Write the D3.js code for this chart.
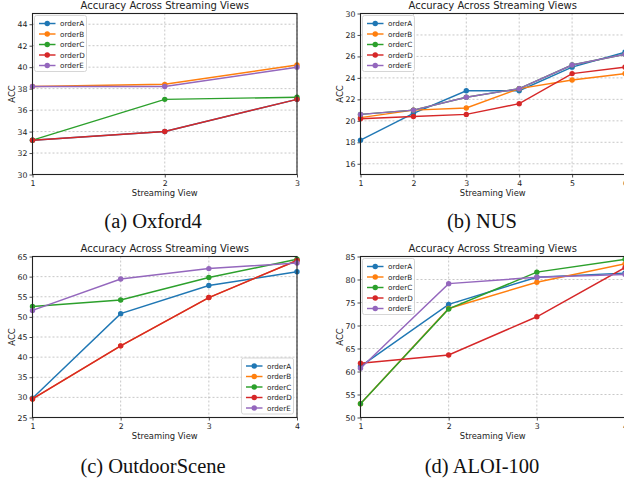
<!DOCTYPE html>
<html><head><meta charset="utf-8">
<script src="https://cdn.jsdelivr.net/npm/d3@7"></script>
<style>
html,body{margin:0;padding:0;background:#fff;}
svg{display:block;}
</style></head>
<body>
<svg id="chart" width="624" height="482"></svg>
<script>
// ---- data ----
const seriesNames = ["orderA","orderB","orderC","orderD","orderE"];
const seriesColors = ["#1f77b4","#ff7f0e","#2ca02c","#d62728","#9467bd"];

// (a) Oxford4
const oxfordViews = [1,2,3];
const oxfordA = [33.2,34.0,37.0];
const oxfordB = [38.2,38.4,40.2];
const oxfordC = [33.2,37.0,37.2];
const oxfordD = [33.2,34.0,37.0];
const oxfordE = [38.2,38.2,40.0];
const oxfordYTicks = [30,32,34,36,38,40,42,44];

// (b) NUS
const nusViews = [1,2,3,4,5,6];
const nusA = [18.2,20.7,22.8,22.8,25.0,26.4];
const nusB = [20.3,21.0,21.2,23.0,23.8,24.4];
const nusC = [20.6,21.0,22.2,23.0,25.2,26.2];
const nusD = [20.2,20.4,20.6,21.6,24.4,25.0];
const nusE = [20.6,21.0,22.2,23.0,25.2,26.2];
const nusYTicks = [16,18,20,22,24,26,28,30];

// (c) OutdoorScene
const outdoorViews = [1,2,3,4];
const outdoorA = [29.8,50.8,57.8,61.2];
const outdoorB = [29.6,42.8,54.8,64.0];
const outdoorC = [52.6,54.2,59.8,64.3];
const outdoorD = [29.6,42.8,54.8,64.0];
const outdoorE = [51.6,59.4,62.0,63.4];
const outdoorYTicks = [25,30,35,40,45,50,55,60,65];

// (d) ALOI-100
const aloiViews = [1,2,3,4];
const aloiA = [61.1,74.6,80.5,81.4];
const aloiB = [53.0,73.7,79.4,83.4];
const aloiC = [53.0,73.6,81.6,84.4];
const aloiD = [61.8,63.6,71.9,82.6];
const aloiE = [60.7,79.1,80.5,81.1];
const aloiYTicks = [50,55,60,65,70,75,80,85];

const titleText = "Accuracy Across Streaming Views";
const xLabelText = "Streaming View";
const yLabelText = "ACC";

// ---- layout ----
const svg = d3.select("#chart");
const W = 264.5;

const panels = [
  {left:32.5, top:13.5, bottom:174.5, views:oxfordViews, yDomain:[30,45], yTicks:oxfordYTicks,
   series:[oxfordA,oxfordB,oxfordC,oxfordD,oxfordE], legend:"ul", caption:"(a) Oxford4", capX:153, capY:228},
  {left:360.5, top:13.5, bottom:174.5, views:nusViews, yDomain:[15,30], yTicks:nusYTicks,
   series:[nusA,nusB,nusC,nusD,nusE], legend:"ul", caption:"(b) NUS", capX:482, capY:228},
  {left:32.5, top:256.5, bottom:417.5, views:outdoorViews, yDomain:[25,65], yTicks:outdoorYTicks,
   series:[outdoorA,outdoorB,outdoorC,outdoorD,outdoorE], legend:"lr", caption:"(c) OutdoorScene", capX:153, capY:473},
  {left:360.5, top:256.5, bottom:417.5, views:aloiViews, yDomain:[50,85], yTicks:aloiYTicks,
   series:[aloiA,aloiB,aloiC,aloiD,aloiE], legend:"ul", caption:"(d) ALOI-100", capX:482, capY:473}
];

const FONT = "DejaVu Sans, sans-serif";

panels.forEach(p => {
  const x = d3.scaleLinear().domain([p.views[0], p.views[p.views.length-1]]).range([p.left, p.left+W]);
  const y = d3.scaleLinear().domain(p.yDomain).range([p.bottom, p.top]);
  const g = svg.append("g");

  // grid
  g.append("g").selectAll("line").data(p.views).join("line")
    .attr("x1", d=>x(d)).attr("x2", d=>x(d)).attr("y1", p.top).attr("y2", p.bottom)
    .attr("stroke","#b0b0b0").attr("stroke-width",0.7).attr("stroke-dasharray","2,2");
  g.append("g").selectAll("line").data(p.yTicks).join("line")
    .attr("x1", p.left).attr("x2", p.left+W).attr("y1", d=>y(d)).attr("y2", d=>y(d))
    .attr("stroke","#b0b0b0").attr("stroke-width",0.7).attr("stroke-dasharray","2,2");

  // axes
  const xAxis = d3.axisBottom(x).tickValues(p.views).tickFormat(d3.format("d")).tickSize(3).tickPadding(2.5);
  const yAxis = d3.axisLeft(y).tickValues(p.yTicks).tickFormat(d3.format("d")).tickSize(3).tickPadding(2);
  const gx = g.append("g").attr("transform",`translate(0,${p.bottom})`).call(xAxis);
  const gy = g.append("g").attr("transform",`translate(${p.left},0)`).call(yAxis);
  [gx,gy].forEach(a=>{
    a.select(".domain").remove();
    a.selectAll("line").attr("stroke","#222").attr("stroke-width",0.8);
    a.selectAll("text").attr("font-family",FONT).attr("font-size","7.8px").attr("fill","#222");
  });

  // lines and markers
  p.series.forEach((vals,i) => {
    const pts = p.views.map((v,j)=>[v, vals[j]]);
    g.append("path").datum(pts)
      .attr("d", d3.line().x(d=>x(d[0])).y(d=>y(d[1])))
      .attr("fill","none").attr("stroke",seriesColors[i]).attr("stroke-width",1.45);
    g.append("g").selectAll("circle").data(pts).join("circle")
      .attr("cx", d=>x(d[0])).attr("cy", d=>y(d[1])).attr("r",2.7).attr("fill",seriesColors[i]);
  });

  // frame
  g.append("rect").attr("x",p.left).attr("y",p.top).attr("width",W).attr("height",p.bottom-p.top)
    .attr("fill","none").attr("stroke","#222").attr("stroke-width",1.1);

  // title & labels
  g.append("text").attr("x",p.left+W/2).attr("y",p.top-4.5).attr("text-anchor","middle")
    .attr("font-family",FONT).attr("font-size","10px").attr("fill","#222").text(titleText);
  g.append("text").attr("x",p.left+W/2).attr("y",p.bottom+21.5).attr("text-anchor","middle")
    .attr("font-family",FONT).attr("font-size","8.4px").attr("fill","#222").text(xLabelText);
  g.append("text").attr("transform",`translate(${p.left-18},${(p.top+p.bottom)/2}) rotate(-90)`)
    .attr("text-anchor","middle").attr("font-family",FONT).attr("font-size","8.4px").attr("fill","#222").text(yLabelText);

  // legend
  const lw = 52, lh = 56;
  let lx, ly;
  if (p.legend === "ul") { lx = p.left+2; ly = p.top+2; }
  else { lx = p.left+W-3.5-lw; ly = p.bottom-3.5-lh; }
  const lg = g.append("g").attr("transform",`translate(${lx},${ly})`);
  lg.append("rect").attr("width",lw).attr("height",lh).attr("rx",2)
    .attr("fill","#fff").attr("fill-opacity",0.85).attr("stroke","#cccccc").attr("stroke-width",0.8);
  seriesNames.forEach((n,i)=>{
    const ry = 8 + i*10.5;
    lg.append("line").attr("x1",4.5).attr("x2",21).attr("y1",ry).attr("y2",ry)
      .attr("stroke",seriesColors[i]).attr("stroke-width",1.45);
    lg.append("circle").attr("cx",12.75).attr("cy",ry).attr("r",2.7).attr("fill",seriesColors[i]);
    lg.append("text").attr("x",25.5).attr("y",ry+2.6).attr("font-family",FONT).attr("font-size","7.2px")
      .attr("fill","#222").text(n);
  });

  // caption
  svg.append("text").attr("x",p.capX).attr("y",p.capY).attr("text-anchor","middle")
    .attr("font-family","Liberation Serif, Times New Roman, serif").attr("font-size","20.5px")
    .attr("fill","#111").text(p.caption);
});
</script>
</body></html>
